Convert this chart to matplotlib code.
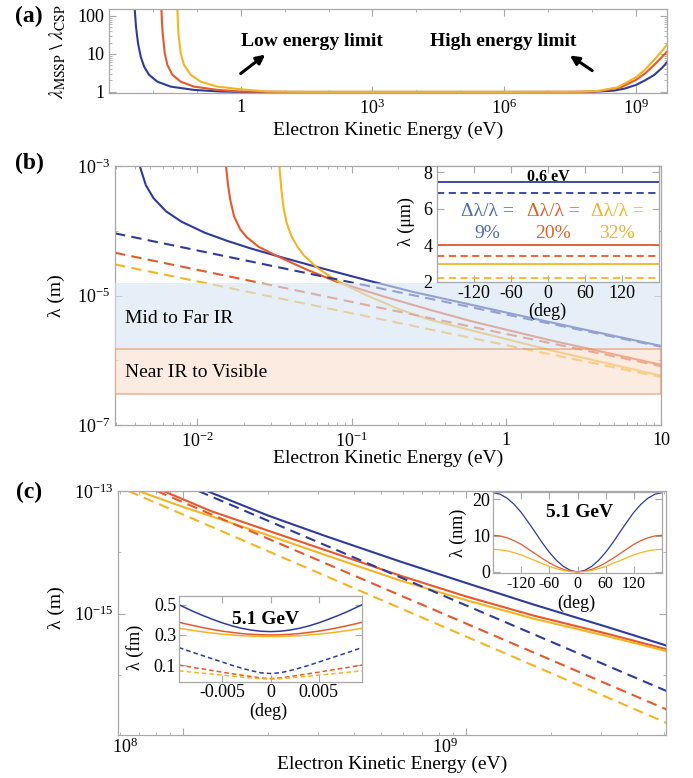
import numpy as np
import matplotlib
matplotlib.use('Agg')
import matplotlib.pyplot as plt
import matplotlib.transforms as mtransforms
from matplotlib.ticker import LogLocator, NullFormatter, FixedLocator

plt.rcParams['font.family'] = ['Liberation Serif', 'DejaVu Serif']
plt.rcParams['mathtext.fontset'] = 'stix'
plt.rcParams['axes.unicode_minus'] = False

BLUE = '#2d3c9c'
ORANGE = '#e8582a'
YELLOW = '#f6b425'
FRAME = '#a8a8a8'
TXT_BLUE = '#4a6cb3'
TXT_ORANGE = '#d8632a'
TXT_YELLOW = '#f2b22a'

# ---------------- data (log10 values) ----------------
# panel (a): ratio lambda_MSSP / lambda_CSP vs kinetic energy
a_blue_logE = [-2.415, -2.40, -2.385, -2.339, -2.278, -2.202, -2.088, -1.898, -1.595, -1.063,
               -0.456, 0.0, 3.0, 6.0, 7.6, 8.04, 8.5, 8.75, 9.0, 9.2, 9.415, 9.6, 9.707]
a_blue_logR = [2.18, 1.95, 1.72, 1.28, 0.93, 0.67, 0.45, 0.27, 0.14, 0.053,
               0.01, 0.0, 0.0, 0.0, 0.0, 0.005, 0.034, 0.09, 0.184, 0.30, 0.447, 0.64, 0.78]
a_orange_logE = [-1.806, -1.795, -1.777, -1.731, -1.670, -1.556, -1.367, -1.063, -0.531, 0.0,
                 1.0, 3.0, 6.0, 7.8, 8.2, 8.656, 9.0, 9.2, 9.415, 9.6, 9.707]
a_orange_logR = [2.18, 1.85, 1.54, 1.02, 0.71, 0.45, 0.27, 0.14, 0.053, 0.01,
                 0.0, 0.0, 0.0, 0.003, 0.026, 0.12, 0.316, 0.48, 0.71, 0.93, 1.06]
a_yellow_logE = [-1.442, -1.432, -1.419, -1.367, -1.291, -1.139, -0.911, -0.531, 0.0, 0.607,
                 1.5, 3.0, 6.0, 7.7, 8.125, 8.58, 9.0, 9.2, 9.415, 9.6, 9.707]
a_yellow_logR = [2.18, 1.85, 1.54, 1.02, 0.71, 0.45, 0.27, 0.14, 0.07, 0.01,
                 0.0, 0.0, 0.0, 0.003, 0.026, 0.12, 0.386, 0.58, 0.842, 1.09, 1.24]

# panel (b): wavelength vs energy, solid = MSSP, dashed = CSP
b_blue_logE = [-2.37, -2.33, -2.28, -2.20, -2.10, -1.95, -1.80, -1.65, -1.483, -1.224,
               -0.90, -0.60, -0.222, 0.30, 1.00]
b_blue_logL = [-3.00, -3.30, -3.50, -3.70, -3.86, -4.03, -4.16, -4.275, -4.39, -4.56,
               -4.765, -4.946, -5.146, -5.421, -5.779]
b_orange_logE = [-1.812, -1.80, -1.785, -1.76, -1.72, -1.678, -1.60, -1.483, -1.30, -1.095,
                 -0.80, -0.49, -0.222, 0.30, 1.00]
b_orange_logL = [-3.00, -3.28, -3.52, -3.78, -3.98, -4.10, -4.25, -4.39, -4.59, -4.79,
                 -5.01, -5.224, -5.40, -5.70, -6.07]
b_yellow_logE = [-1.467, -1.455, -1.440, -1.42, -1.39, -1.35, -1.311, -1.224, -1.095, -0.90,
                 -0.70, -0.49, -0.222, 0.30, 1.00]
b_yellow_logL = [-3.00, -3.35, -3.65, -3.88, -4.08, -4.25, -4.375, -4.57, -4.776, -5.00,
                 -5.206, -5.378, -5.54, -5.853, -6.24]
b_dash_logE = [-2.53, 1.00]
b_blue_dash_logL = [-4.04, -5.79]
b_orange_dash_logL = [-4.34, -6.09]
b_yellow_dash_logL = [-4.52, -6.26]
band_midfar = [1.5e-6, 1.55e-5]
band_nearvis = [3.0e-7, 1.5e-6]

# inset (b): wavelength (um) vs angle at 0.6 eV
ib_angle = [-180, 180]
ib_blue = [7.47, 6.87]      # solid, dashed
ib_orange = [4.04, 3.40]
ib_yellow = [2.97, 2.24]
ib_labels = ['9%', '20%', '32%']

# panel (c)
c_blue_logE = [8.084, 8.3, 8.5, 8.767, 9.0, 9.237, 9.5, 9.707]
c_blue_logL = [-13.0, -13.40, -13.73, -14.15, -14.50, -14.85, -15.22, -15.52]
c_orange_logE = [7.93, 8.1, 8.296, 8.5, 8.767, 9.0, 9.237, 9.5, 9.707]
c_orange_logL = [-13.0, -13.33, -13.64, -13.96, -14.38, -14.72, -15.03, -15.33, -15.58]
c_yellow_logE = [7.842, 8.0, 8.3, 8.5, 8.767, 9.0, 9.237, 9.5, 9.707]
c_yellow_logL = [-13.0, -13.26, -13.72, -14.04, -14.46, -14.78, -15.08, -15.37, -15.61]
c_blue_dash_logE = [8.054, 9.707]
c_blue_dash_logL = [-13.0, -16.26]
c_orange_dash_logE = [7.907, 9.707]
c_orange_dash_logL = [-13.0, -16.56]
c_yellow_dash_logE = [7.807, 9.707]
c_yellow_dash_logL = [-13.0, -16.78]

# inset (c) right: wavelength (nm) vs angle at 5.1 GeV (symmetric, 0..180 deg)
icr_angle = [0, 15, 30, 45, 60, 75, 90, 105, 120, 135, 150, 165, 180]
icr_blue = [0, 0.4, 1.5, 3.2, 5.4, 8.0, 10.9, 13.7, 16.4, 18.6, 20.3, 21.4, 21.8]
icr_orange = [0, 0.2, 0.7, 1.5, 2.5, 3.7, 5.0, 6.3, 7.6, 8.6, 9.4, 9.9, 10.1]
icr_yellow = [0, 0.1, 0.4, 0.9, 1.5, 2.3, 3.1, 3.9, 4.7, 5.3, 5.8, 6.1, 6.2]

# inset (c) left: wavelength (fm) vs small angle at 5.1 GeV (symmetric)
icl_angle = [0, 0.001, 0.002, 0.003, 0.004, 0.005, 0.006, 0.007, 0.008, 0.009, 0.0095]
icl_blue = [0.322, 0.3245, 0.332, 0.344, 0.360, 0.380, 0.403, 0.428, 0.455, 0.485, 0.50]
icl_orange = [0.300, 0.301, 0.304, 0.309, 0.317, 0.325, 0.336, 0.348, 0.362, 0.376, 0.384]
icl_yellow = [0.289, 0.2896, 0.292, 0.295, 0.2995, 0.305, 0.312, 0.320, 0.329, 0.339, 0.344]
icl_blue_d = [0.044, 0.049, 0.063, 0.080, 0.099, 0.120, 0.141, 0.162, 0.183, 0.205, 0.216]
icl_orange_d = [0.011, 0.015, 0.024, 0.033, 0.043, 0.053, 0.064, 0.074, 0.084, 0.095, 0.100]
icl_yellow_d = [0.007, 0.0095, 0.015, 0.021, 0.027, 0.033, 0.040, 0.046, 0.052, 0.059, 0.062]

# ---------------- figure ----------------
W, H = 693, 778
fig = plt.figure(figsize=(W / 100, H / 100), dpi=100)


def rect(l, t, r, b):
    return [l / W, 1 - b / H, (r - l) / W, (b - t) / H]


def style(ax, fs=13):
    for s in ax.spines.values():
        s.set_color(FRAME)
        s.set_linewidth(0.9)
    ax.tick_params(which='both', direction='in', top=True, right=True,
                   color=FRAME, labelsize=fs)
    ax.tick_params(which='major', length=5, width=0.8)
    ax.tick_params(which='minor', length=2.5, width=0.6)


def p10(v):
    return 10 ** np.asarray(v, dtype=float)


def mirror(x, y):
    x = np.asarray(x, float)
    y = np.asarray(y, float)
    return np.concatenate([-x[::-1], x[1:]]), np.concatenate([y[::-1], y[1:]])


DASH = (0, (5, 3))
LW = 1.5
ARROW = dict(arrowstyle='-|>', lw=2.2, color='black', mutation_scale=13, shrinkA=0, shrinkB=0)

# ---- panel (a)
axa = fig.add_axes(rect(109, 9.3, 667, 93.3))
style(axa)
axa.set_xscale('log')
axa.set_yscale('log')
for lx, ly, c in [(a_blue_logE, a_blue_logR, BLUE), (a_orange_logE, a_orange_logR, ORANGE),
                  (a_yellow_logE, a_yellow_logR, YELLOW)]:
    axa.plot(p10(lx), p10(ly), color=c, lw=LW)
axa.set_xlim(1e-3, 10 ** 9.707)
axa.set_ylim(0.92, 150)
axa.xaxis.set_major_locator(FixedLocator([1, 1e3, 1e6, 1e9]))
axa.set_xticklabels(['1', r'$\mathregular{10^{3}}$', r'$\mathregular{10^{6}}$', r'$\mathregular{10^{9}}$'])
axa.xaxis.set_minor_locator(FixedLocator([10.0 ** k for k in range(-3, 10)]))
axa.xaxis.set_minor_formatter(NullFormatter())
axa.yaxis.set_major_locator(FixedLocator([1, 10, 100]))
axa.set_yticklabels(['1', '10', '100'])
axa.yaxis.set_minor_locator(LogLocator(base=10, subs=np.arange(2, 10)))
axa.yaxis.set_minor_formatter(NullFormatter())
axa.tick_params(axis='x', pad=4)
axa.set_xlabel('Electron Kinetic Energy (eV)', fontsize=14)
axa.xaxis.set_label_coords(0.5, -0.34)
axa.xaxis.label.set_va('top')
axa.set_ylabel(r'$\lambda_{\mathrm{MSSP}}\ \backslash\ \lambda_{\mathrm{CSP}}$', fontsize=14)
axa.yaxis.set_label_coords(-0.073, 0.5)
axa.text(0.237, 0.62, 'Low energy limit', transform=axa.transAxes, fontsize=14,
         fontweight='bold', va='center', ha='left')
axa.text(0.575, 0.62, 'High energy limit', transform=axa.transAxes, fontsize=14,
         fontweight='bold', va='center', ha='left')
axa.annotate('', xy=(0.280, 0.46), xytext=(0.236, 0.235), xycoords='axes fraction',
             arrowprops=ARROW)
axa.annotate('', xy=(0.826, 0.45), xytext=(0.866, 0.27), xycoords='axes fraction',
             arrowprops=ARROW)

# ---- panel (b)
axb = fig.add_axes(rect(115, 166, 661, 425))
style(axb)
axb.set_xscale('log')
axb.set_yscale('log')
for lx, ly, c in [(b_blue_logE, b_blue_logL, BLUE), (b_orange_logE, b_orange_logL, ORANGE),
                  (b_yellow_logE, b_yellow_logL, YELLOW)]:
    axb.plot(p10(lx), p10(ly), color=c, lw=LW, zorder=2)
for ly, c in [(b_blue_dash_logL, BLUE), (b_orange_dash_logL, ORANGE), (b_yellow_dash_logL, YELLOW)]:
    axb.plot(p10(b_dash_logE), p10(ly), color=c, lw=LW, ls=DASH, zorder=2)
axb.axhspan(band_midfar[0], band_midfar[1], facecolor='#d6e5f4', alpha=0.6,
            edgecolor='none', zorder=3)
axb.axhspan(band_nearvis[0], band_nearvis[1], facecolor='#fadecc', alpha=0.6,
            edgecolor='#f08a55', lw=1.2, zorder=3)
axb.text(0.018, 0.413, 'Mid to Far IR', transform=axb.transAxes, fontsize=14,
         va='center', ha='left', zorder=4)
axb.text(0.018, 0.201, 'Near IR to Visible', transform=axb.transAxes, fontsize=14,
         va='center', ha='left', zorder=4)
axb.set_xlim(10 ** -2.53, 10 ** 1.0)
axb.set_ylim(1e-7, 1e-3)
axb.xaxis.set_major_locator(FixedLocator([1e-2, 1e-1, 1, 10]))
axb.set_xticklabels([r'$\mathregular{10^{-2}}$', r'$\mathregular{10^{-1}}$', '1', '10'])
axb.xaxis.set_minor_locator(LogLocator(base=10, subs=np.arange(2, 10)))
axb.xaxis.set_minor_formatter(NullFormatter())
axb.yaxis.set_major_locator(FixedLocator([1e-7, 1e-5, 1e-3]))
axb.set_yticklabels([r'$\mathregular{10^{-7}}$', r'$\mathregular{10^{-5}}$', r'$\mathregular{10^{-3}}$'])
axb.yaxis.set_minor_locator(FixedLocator([1e-6, 1e-4]))
axb.yaxis.set_minor_formatter(NullFormatter())
axb.tick_params(axis='x', pad=5)
axb.set_xlabel('Electron Kinetic Energy (eV)', fontsize=14)
axb.xaxis.set_label_coords(0.5, -0.095)
axb.xaxis.label.set_va('top')
axb.set_ylabel('λ (m)', fontsize=14)
axb.yaxis.set_label_coords(-0.092, 0.5)

# ---- inset (b)
axib = fig.add_axes(rect(437, 166, 659, 282))
style(axib)
axib.set_facecolor('white')
for vals, c in [(ib_blue, BLUE), (ib_orange, ORANGE), (ib_yellow, YELLOW)]:
    axib.plot(ib_angle, [vals[0]] * 2, color=c, lw=1.3)
    axib.plot(ib_angle, [vals[1]] * 2, color=c, lw=1.3, ls=(0, (4, 2.5)))
axib.set_xlim(-180, 180)
axib.set_ylim(2, 8.35)
axib.set_xticks([-120, -60, 0, 60, 120])
axib.set_yticks([2, 4, 6, 8])
axib.tick_params(axis='x', pad=2)
axib.text(0.5, 0.905, '0.6 eV', transform=axib.transAxes, fontsize=11.5,
          fontweight='bold', ha='center', va='center')
for xf, lab, tc in zip([0.225, 0.524, 0.811], ib_labels, [TXT_BLUE, TXT_ORANGE, TXT_YELLOW]):
    axib.text(xf, 0.61, 'Δλ/λ =', transform=axib.transAxes, fontsize=14,
              color=tc, ha='center', va='center')
    axib.text(xf, 0.42, lab, transform=axib.transAxes, fontsize=14,
              color=tc, ha='center', va='center')
axib.set_xlabel('(deg)', fontsize=13)
axib.xaxis.set_label_coords(0.495, -0.175)
axib.xaxis.label.set_va('top')
axib.set_ylabel('λ (μm)', fontsize=13)
axib.yaxis.set_label_coords(-0.1, 0.52)

# ---- panel (c)
axc = fig.add_axes(rect(118, 491, 666.3, 735))
style(axc)
axc.set_xscale('log')
axc.set_yscale('log')
for lx, ly, c in [(c_blue_logE, c_blue_logL, BLUE), (c_orange_logE, c_orange_logL, ORANGE),
                  (c_yellow_logE, c_yellow_logL, YELLOW)]:
    axc.plot(p10(lx), p10(ly), color=c, lw=LW)
for lx, ly, c in [(c_blue_dash_logE, c_blue_dash_logL, BLUE),
                  (c_orange_dash_logE, c_orange_dash_logL, ORANGE),
                  (c_yellow_dash_logE, c_yellow_dash_logL, YELLOW)]:
    axc.plot(p10(lx), p10(ly), color=c, lw=LW, ls=DASH)
axc.set_xlim(10 ** 7.77, 10 ** 9.707)
axc.set_ylim(1.05e-17, 1e-13)
axc.xaxis.set_major_locator(FixedLocator([1e8, 1e9]))
axc.set_xticklabels([r'$\mathregular{10^{8}}$', r'$\mathregular{10^{9}}$'])
axc.xaxis.set_minor_locator(LogLocator(base=10, subs=np.arange(2, 10)))
axc.xaxis.set_minor_formatter(NullFormatter())
axc.yaxis.set_major_locator(FixedLocator([1e-15, 1e-13]))
axc.set_yticklabels([r'$\mathregular{10^{-15}}$', r'$\mathregular{10^{-13}}$'])
axc.yaxis.set_minor_locator(FixedLocator([1e-16, 1e-14]))
axc.yaxis.set_minor_formatter(NullFormatter())
axc.tick_params(axis='x', pad=2)
axc.set_xlabel('Electron Kinetic Energy (eV)', fontsize=14)
axc.xaxis.set_label_coords(0.5, -0.086)
axc.xaxis.label.set_va('top')
axc.set_ylabel('λ (m)', fontsize=14)
axc.yaxis.set_label_coords(-0.097, 0.52)
# the reference prints its (c) tick labels left of their ticks
for lab, dx in zip(axc.get_xticklabels(), [-58, -21]):
    lab.set_transform(lab.get_transform() +
                      mtransforms.ScaledTranslation(dx / 100, 0, fig.dpi_scale_trans))

# ---- inset (c) right
axcr = fig.add_axes(rect(493, 492, 662, 573))
style(axcr, fs=11.5)
axcr.set_facecolor('white')
for vals, c in [(icr_blue, BLUE), (icr_orange, ORANGE), (icr_yellow, YELLOW)]:
    xx, yy = mirror(icr_angle, vals)
    axcr.plot(xx, yy, color=c, lw=0.9)
axcr.set_xlim(-180, 180)
axcr.set_ylim(-0.3, 22)
axcr.set_xticks([-120, -60, 0, 60, 120])
axcr.set_yticks([0, 10, 20])
axcr.tick_params(axis='both', pad=2)
axcr.tick_params(axis='y', labelsize=13)
axcr.text(0.515, 0.75, '5.1 GeV', transform=axcr.transAxes, fontsize=14,
          fontweight='bold', ha='center', va='center')
axcr.set_xlabel('(deg)', fontsize=13)
axcr.xaxis.set_label_coords(0.495, -0.27)
axcr.xaxis.label.set_va('top')
axcr.set_ylabel('λ (nm)', fontsize=13)
axcr.yaxis.set_label_coords(-0.156, 0.49)

# ---- inset (c) left
axcl = fig.add_axes(rect(179, 595.7, 362, 681.7))
style(axcl)
axcl.set_facecolor('white')
for vals, c in [(icl_blue, BLUE), (icl_orange, ORANGE), (icl_yellow, YELLOW)]:
    xx, yy = mirror(icl_angle, vals)
    axcl.plot(xx, yy, color=c, lw=1.1)
for vals, c in [(icl_blue_d, BLUE), (icl_orange_d, ORANGE), (icl_yellow_d, YELLOW)]:
    xx, yy = mirror(icl_angle, vals)
    axcl.plot(xx, yy, color=c, lw=1.1, ls=(0, (3, 2)))
axcl.set_xlim(-0.0095, 0.0095)
axcl.set_ylim(-0.01, 0.56)
axcl.set_xticks([-0.005, 0, 0.005])
axcl.set_xticklabels(['-0.005', '0', '0.005'])
axcl.set_yticks([0.1, 0.3, 0.5])
axcl.tick_params(axis='both', pad=2)
axcl.text(0.475, 0.72, '5.1 GeV', transform=axcl.transAxes, fontsize=14,
          fontweight='bold', ha='center', va='center')
axcl.set_xlabel('(deg)', fontsize=13)
axcl.xaxis.set_label_coords(0.486, -0.245)
axcl.xaxis.label.set_va('top')
axcl.set_ylabel('λ (fm)', fontsize=13)
axcl.yaxis.set_label_coords(-0.19, 0.40)

# panel letters
for lab, y in [('(a)', 16), ('(b)', 163), ('(c)', 492)]:
    fig.text(29 / W, 1 - y / H, lab, fontsize=17, fontweight='bold', ha='center', va='center')

fig.savefig('out.png', dpi=100)
